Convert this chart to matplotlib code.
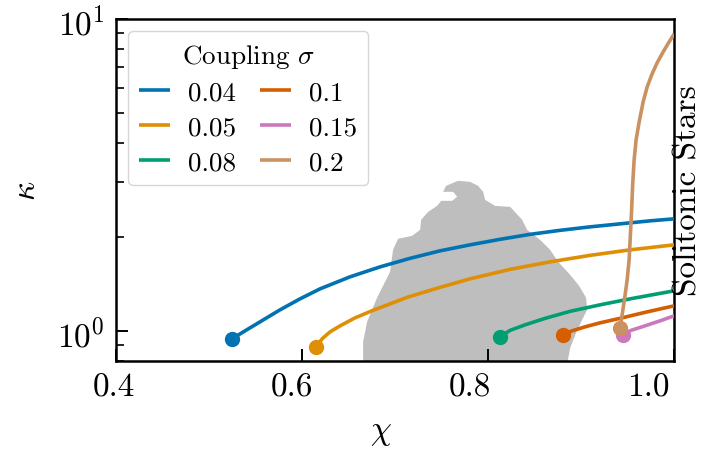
import numpy as np
import matplotlib
matplotlib.use("Agg")
import matplotlib.pyplot as plt
from matplotlib.ticker import LogLocator, NullFormatter, FixedLocator, FormatStrFormatter
from matplotlib.transforms import ScaledTranslation

plt.rcParams["font.family"] = ["cmr10", "DejaVu Serif"]
plt.rcParams["mathtext.fontset"] = "cm"
plt.rcParams["axes.formatter.use_mathtext"] = True

# Coupling strengths and the matching sequences of (chi, kappa)
couplings = ["0.04", "0.05", "0.08", "0.1", "0.15", "0.2"]
colors = ["#0173B2", "#DE8F05", "#029E73", "#D55E00", "#CC78BC", "#CA9161"]

chi_004 = [0.5247, 0.5387, 0.5548, 0.5763, 0.5978, 0.6194, 0.6516, 0.6839, 0.7161,
           0.7484, 0.7806, 0.8129, 0.8452, 0.8774, 0.9097, 0.9419, 0.9742, 1.0]
kap_004 = [0.9427, 1.0000, 1.0687, 1.1677, 1.2663, 1.3637, 1.4898, 1.6036, 1.7077,
           1.8049, 1.8866, 1.9649, 2.0387, 2.0998, 2.1544, 2.2027, 2.2520, 2.2855]

chi_005 = [0.6151, 0.6215, 0.6301, 0.6409, 0.6570, 0.6763, 0.6946, 0.7129, 0.7323,
           0.7484, 0.7806, 0.8237, 0.8667, 0.9097, 0.9527, 1.0]
kap_005 = [0.8886, 0.9427, 0.9926, 1.0376, 1.1006, 1.1633, 1.2204, 1.2805, 1.3335,
           1.3786, 1.4678, 1.5743, 1.6639, 1.7458, 1.8181, 1.8866]

chi_008 = [0.8129, 0.8237, 0.8398, 0.8613, 0.8882, 0.9204, 0.9527, 1.0]
kap_008 = [0.9567, 1.0037, 1.0453, 1.0966, 1.1548, 1.2115, 1.2663, 1.3434]

chi_010 = [0.8806, 0.8903, 0.9043, 0.9204, 0.9419, 0.9688, 1.0]
kap_010 = [0.9709, 1.0000, 1.0300, 1.0608, 1.0966, 1.1463, 1.2026]

chi_015 = [0.9452, 0.9538, 0.9688, 0.9849, 1.0]
kap_015 = [0.9709, 1.0037, 1.0376, 1.0766, 1.1170]

chi_020 = [0.9419, 0.9441, 0.9473, 0.9495, 0.9516, 0.9527, 0.9543, 0.9554, 0.9570,
           0.9591, 0.9624, 0.9667, 0.9710, 0.9763, 0.9817, 0.9882, 0.9946, 1.0]
kap_020 = [1.0224, 1.1253, 1.3045, 1.4570, 1.6887, 1.9574, 2.4428, 2.9378, 3.5320,
           4.0953, 4.6765, 5.4208, 6.0536, 6.6635, 7.2261, 7.8388, 8.4373, 8.9509]

# Outline of the shaded region
region_chi = [0.6656, 0.6656, 0.6699, 0.6806, 0.6946, 0.6978, 0.7032, 0.7183, 0.7269,
              0.7280, 0.7355, 0.7452, 0.7495, 0.7613, 0.7667, 0.7624, 0.7516, 0.7548,
              0.7677, 0.7806, 0.7892, 0.7946, 0.7968, 0.8075, 0.8237, 0.8366, 0.8419,
              0.8559, 0.8667, 0.8753, 0.8882, 0.8978, 0.9054, 0.9065, 0.9011, 0.8946,
              0.8882, 0.8849]
region_kap = [0.78, 0.922, 1.069, 1.276, 1.546, 1.818, 1.972, 2.016, 2.107,
              2.269, 2.406, 2.515, 2.610, 2.610, 2.689, 2.790, 2.790, 2.916,
              3.026, 3.003, 2.916, 2.790, 2.630, 2.515, 2.497, 2.269, 2.107,
              1.957, 1.818, 1.664, 1.512, 1.394, 1.276, 1.168, 1.085, 0.985,
              0.882, 0.78]

x_ticks = [0.4, 0.6, 0.8, 1.0]

series = [(chi_004, kap_004), (chi_005, kap_005), (chi_008, kap_008),
          (chi_010, kap_010), (chi_015, kap_015), (chi_020, kap_020)]

fig = plt.figure(figsize=(7.21, 4.52), dpi=100)
ax = fig.add_axes([0.161, 0.199, 0.774, 0.757])

ax.fill(region_chi, region_kap, color="#bebebe", lw=0, zorder=1)

for (cx, ky), lab, col in zip(series, couplings, colors):
    ax.plot(cx, ky, color=col, lw=2.6, label=lab, zorder=3,
            solid_capstyle="butt", solid_joinstyle="round")
    ax.plot(cx[0], ky[0], "o", color=col, ms=10, zorder=4)

ax.set_yscale("log")
ax.set_xlim(0.4, 1.0)
ax.set_ylim(0.8, 10)
ax.xaxis.set_major_locator(FixedLocator(x_ticks))
ax.xaxis.set_major_formatter(FormatStrFormatter("%.1f"))
ax.yaxis.set_major_locator(LogLocator(base=10))
ax.yaxis.set_minor_locator(LogLocator(base=10, subs=np.arange(1, 10)))
ax.yaxis.set_minor_formatter(NullFormatter())

ax.tick_params(which="major", direction="in", length=8.5, width=1.4, labelsize=24,
               top=False, right=False, pad=8)
ax.tick_params(which="minor", direction="in", length=5.5, width=1.2,
               top=False, right=False)
for s in ax.spines.values():
    s.set_linewidth(1.8)

# shift the x tick labels a little to the left, more so towards the right end
for v, lbl in zip(x_ticks, ax.get_xticklabels()):
    dx_inch = -(0.02 + 0.4 * (v - 0.4))
    lbl.set_transform(lbl.get_transform() + ScaledTranslation(dx_inch, 0, fig.dpi_scale_trans))

ax.set_xlabel(r"$\chi$", fontsize=24)
ax.xaxis.set_label_coords(0.475, -0.165)
ax.set_ylabel(r"$\kappa$", fontsize=24, labelpad=12)

ax.text(1.025, 0.5, "Solitonic Stars", transform=ax.transAxes, rotation=90,
        ha="center", va="center", fontsize=24)

leg = ax.legend(title=r"Coupling $\sigma$", ncol=2, loc="upper left",
                fontsize=19.5, title_fontsize=19.5, handlelength=1.15,
                handletextpad=0.65, columnspacing=0.9, labelspacing=0.4,
                borderaxespad=0.45, borderpad=0.4, frameon=True)

fig.savefig("out.png", dpi=100)
